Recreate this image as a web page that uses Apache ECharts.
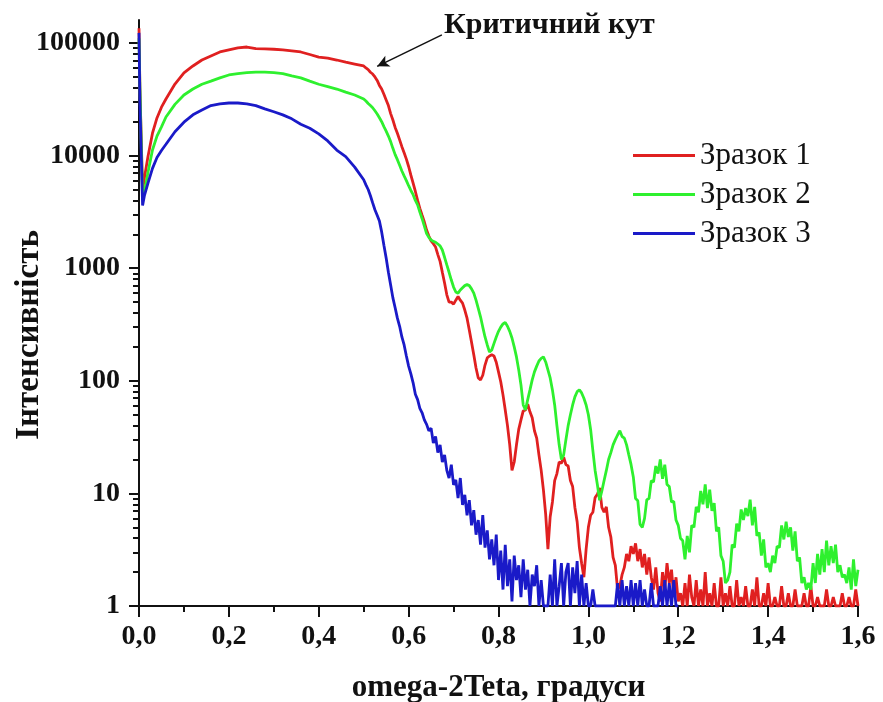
<!DOCTYPE html>
<html>
<head>
<meta charset="utf-8">
<script src="https://cdn.jsdelivr.net/npm/echarts@6/dist/echarts.min.js"></script>
<style>
  html, body { margin: 0; padding: 0; background: #fff; }
  #chart { width: 883px; height: 702px; }
</style>
</head>
<body>
<div id="chart"></div>
<script>
// Scan angles: fine steps near the origin spike, then a regular 0.005° step from 0.5° to 1.6°
const headAngle = [0, 0.002, 0.008, 0.012, 0.02, 0.03, 0.04, 0.05, 0.06, 0.08,
  0.10, 0.12, 0.14, 0.16, 0.18, 0.20, 0.22, 0.24, 0.26, 0.28,
  0.30, 0.32, 0.34, 0.36, 0.38, 0.40, 0.42, 0.44, 0.46, 0.48];
const tailStart = 0.5;
const tailStep = 0.005;
const tailCount = 221;

const seriesNames = ['Зразок 1', 'Зразок 2', 'Зразок 3'];

// Intensity, sample 1
const sample1 = [
  135000, 40000, 4950, 6330, 9800, 15800, 21600, 26900, 31800, 43200,
  54200, 62500, 70600, 76700, 83200, 86700, 90300, 92100, 89000, 88500,
  88000, 86700, 85000, 83200, 79000, 75000, 73500, 70600, 67600, 65000,
  // 0.50 ...
  62500, 60000, 58000, 55000, 53000, 50000, 46500, 42000, 39000, 35000,
  31200, 27800, 23600, 20700, 17800, 15800, 13800, 12000, 10600, 9300,
  8000, 6700, 5700, 4800, 4000, 3400, 2950, 2570, 2180, 1930,
  1750, 1650, 1540, 1320, 1150, 920, 740, 580, 500, 500,
  480, 520, 560, 520, 490, 425, 360, 283, 220, 170,
  130, 106, 102, 112, 138, 160, 166, 170, 166, 146,
  120, 98, 75, 55, 40, 27, 16, 19, 27, 37,
  45, 54, 55, 62, 53, 47, 36, 31, 22, 16,
  10.7, 6.5, 3.2, 6.2, 8.4, 13, 15, 19, 18.5, 21,
  18, 17.5, 13, 11.5, 7.5, 5.6, 3.3, 2.4, 1.8, 3.2,
  5.0, 6.4, 6.8, 9.2, 9.8, 11.2, 7.5, 6.8, 7.6, 5.0,
  4.1, 2.7, 2.3, 1.4, 1.5, 1.9, 2.2, 2.9, 2.5, 3.4,
  2.9, 3.6, 2.5, 3.2, 2.2, 2.9, 1.9, 2.7, 1.8, 1.4,
  2.2, 1.3, 1.1, 2.0, 1.4, 2.4, 1.6, 2.1, 1.2, 1.8,
  1.1, 1.3, 1, 1.6, 1, 1.9, 1.2, 1, 1.7, 1,
  1.4, 1, 2.0, 1, 1.3, 1, 1.6, 1, 1, 1.8,
  1, 1.3, 1, 1.5, 1, 1, 1.7, 1, 1.2, 1,
  1.5, 1, 1, 1.4, 1, 1.8, 1, 1, 1.3, 1,
  1.6, 1, 1, 1.2, 1, 1, 1.5, 1, 1, 1.3,
  1, 1, 1.4, 1, 1, 1, 1.3, 1, 1, 1.5,
  1, 1, 1.2, 1, 1, 1, 1.4, 1, 1, 1.2,
  1, 1, 1, 1.3, 1, 1, 1.2, 1, 1, 1.4,
  1
];

// Intensity, sample 2
const sample2 = [
  110000, 40000, 4030, 4700, 7100, 11200, 14900, 18000, 22000, 28500,
  34500, 39000, 43000, 45800, 49000, 52000, 53500, 54500, 55000, 55000,
  54500, 53500, 51000, 49000, 45800, 43000, 41000, 39000, 36600, 34500,
  // 0.50 ...
  31800, 30500, 29000, 27800, 26600, 25000, 23400, 21700, 20000, 18100,
  16500, 14900, 13300, 11600, 10200, 9200, 8200, 7300, 6600, 6000,
  5400, 4900, 4500, 4000, 3650, 3150, 2750, 2360, 2030, 1880,
  1780, 1730, 1700, 1640, 1580, 1450, 1250, 1070, 920, 785,
  680, 615, 600, 640, 670, 700, 715, 700, 655, 600,
  520, 440, 370, 300, 245, 208, 180, 188, 215, 245,
  275, 300, 320, 330, 305, 275, 240, 200, 163, 125,
  92, 61, 55, 68, 83, 102, 120, 135, 150, 158,
  163, 147, 125, 106, 83, 61, 40, 27, 20, 22,
  30, 40, 50, 61, 72, 80, 83, 78, 70, 61,
  50, 37, 24, 16, 12, 8.7, 10.5, 13, 16, 20,
  23, 27, 30, 33, 36, 32, 31, 27, 22, 18,
  14, 9.0, 8.6, 5.3, 5.0, 6.0, 8.8, 9.0, 13, 12.6,
  17.5, 15, 20, 13.5, 18, 12, 11.5, 8.4, 8.5, 5.8,
  5.2, 4.0, 3.8, 2.6, 4.2, 3.0, 5.2, 5.0, 7.6, 6.8,
  10.5, 8.0, 12, 7.4, 10.8, 7.0, 8.2, 4.6, 5.0, 2.8,
  2.5, 1.6, 1.7, 2.0, 3.5, 3.3, 5.4, 4.6, 7.2, 5.8,
  7.4, 6.3, 8.8, 5.2, 7.6, 4.2, 4.5, 2.8, 3.9, 2.2,
  2.4, 2.0, 2.8, 2.4, 3.4, 3.3, 5.2, 3.9, 5.6, 4.1,
  5.0, 3.1, 4.6, 2.5, 2.7, 1.6, 1.8, 1.4, 1.6, 1.4,
  2.4, 1.6, 2.9, 1.9, 3.2, 2.0, 3.8, 2.3, 3.4, 2.4,
  3.5, 2.0, 2.3, 1.8, 1.9, 1.6, 2.2, 1.4, 2.6, 1.5,
  2.1
];

// Intensity, sample 3 (recorded up to 1.2°)
const sample3 = [
  123000, 30000, 3600, 4400, 5700, 7700, 9600, 11100, 12600, 16300,
  19800, 23000, 25400, 27800, 28800, 29300, 29300, 28800, 27800, 26000,
  24500, 23000, 21200, 19000, 17500, 15600, 13500, 11200, 9800, 7900,
  // 0.50 ...
  6100, 5500, 5000, 4400, 3800, 3300, 2950, 2620, 2100, 1600,
  1230, 920, 710, 545, 445, 360, 305, 245, 208, 166,
  135, 115, 96, 76, 68, 57, 52, 45, 41, 36,
  38, 28, 32, 23, 27, 19, 22, 16, 13.7, 18,
  11.9, 13.2, 9.1, 13.7, 7.9, 9.7, 6.4, 8.7, 5.2, 7.1,
  4.3, 5.8, 3.5, 6.4, 3.3, 4.7, 2.6, 3.9, 2.3, 4.3,
  1.7, 3.1, 1.4, 3.5, 1.5, 2.6, 1.1, 2.8, 1.7, 2.3,
  1.2, 2.6, 1.4, 2.1, 1, 1.9, 1.5, 2.3, 1, 1.7,
  1, 1, 1, 1.9, 1, 2.6, 1, 1.5, 2.4, 1,
  2.0, 2.4, 1, 2.2, 1.3, 2.5, 1, 1.9, 1, 1.6,
  1, 1, 1.4, 1, 1, 1, 1, 1, 1, 1,
  1, 1, 1, 1.6, 1, 1.7, 1, 1.5, 1, 1.7,
  1, 1.6, 1, 1.7, 1, 1.4, 1, 1, 1.6, 1,
  1, 1, 1.5, 1, 1.7, 1, 1.6, 1, 1.7, 1,
  1
];

const yMajorTicks = [1, 10, 100, 1000, 10000, 100000];
const xTickLabels = ['0,0', '0,2', '0,4', '0,6', '0,8', '1,0', '1,2', '1,4', '1,6'];
const annotationText = 'Критичний кут';
// Arrow from the caption to the critical-angle shoulder of sample 1 (angle, intensity)
const arrowFrom = [0.674, 118000];
const arrowTo = [0.53, 62000];

const angle = headAngle.concat(
  Array.from({ length: tailCount }, (_, i) => +(tailStart + i * tailStep).toFixed(3))
);
const toPairs = vals => vals.map((v, i) => [angle[i], v]);

const yMinorTicks = [];
yMajorTicks.forEach(d => {
  for (let m = 2; m <= 9; m++) if (d * m <= 160000) yMinorTicks.push(d * m);
});

const serif = '"Liberation Serif", "Times New Roman", serif';
const ink = '#111';
const colors = ['#e02020', '#2ef02e', '#1a1ac8'];

const chart = echarts.init(document.getElementById('chart'), null, { renderer: 'canvas' });

const lineSeries = [sample1, sample2, sample3].map((vals, k) => ({
  name: seriesNames[k],
  type: 'line',
  data: toPairs(vals),
  showSymbol: false,
  symbol: 'none',
  sampling: null,
  clip: true,
  z: 2 + k,
  lineStyle: { color: colors[k], width: 2.8 },
  itemStyle: { color: colors[k] }
}));

lineSeries[0].markLine = {
  silent: true,
  symbol: ['none', 'arrow'],
  symbolSize: [9, 12],
  label: { show: false },
  lineStyle: { color: ink, width: 1.5, type: 'solid' },
  data: [[{ coord: arrowFrom }, { coord: arrowTo }]]
};

chart.setOption({
  animation: false,
  backgroundColor: '#fff',
  grid: { left: 139, right: 25, top: 20, bottom: 96, containLabel: false, outerBoundsMode: 'none' },
  legend: {
    data: seriesNames.map((n, k) => ({ name: n, itemStyle: { color: colors[k] } })),
    orient: 'vertical',
    left: 628,
    top: 135,
    icon: 'rect',
    itemWidth: 62,
    itemHeight: 3,
    itemGap: 8,
    textStyle: { fontFamily: serif, fontSize: 31, color: ink }
  },
  graphic: [{
    type: 'text',
    left: 444,
    top: 10,
    style: { text: annotationText, font: 'bold 30px ' + serif, fill: ink }
  }],
  xAxis: {
    type: 'value',
    min: 0,
    max: 1.6,
    interval: 0.2,
    name: 'omega-2Teta, градуси',
    nameLocation: 'middle',
    nameGap: 66,
    nameMoveOverlap: false,
    nameTextStyle: { fontFamily: serif, fontWeight: 'bold', fontSize: 31, color: ink },
    axisLine: { show: true, lineStyle: { color: ink, width: 2 } },
    axisTick: { show: true, length: 11, lineStyle: { color: ink, width: 2 } },
    minorTick: { show: true, splitNumber: 2, length: 6, lineStyle: { color: ink, width: 2 } },
    axisLabel: {
      margin: 17,
      formatter: v => xTickLabels[Math.round(v / 0.2)],
      fontFamily: serif, fontWeight: 'bold', fontSize: 28, color: ink
    },
    splitLine: { show: false }
  },
  yAxis: [{
    type: 'log',
    logBase: 10,
    min: 1,
    max: 160000,
    name: 'Інтенсивність',
    nameLocation: 'middle',
    nameGap: 93,
    nameMoveOverlap: false,
    nameTextStyle: { fontFamily: serif, fontWeight: 'bold', fontSize: 33, color: ink, padding: [0, 44, 0, 0] },
    axisLine: { show: true, lineStyle: { color: ink, width: 2 } },
    axisTick: { show: true, length: 10, customValues: yMajorTicks, lineStyle: { color: ink, width: 2 } },
    axisLabel: {
      customValues: yMajorTicks,
      margin: 19,
      formatter: v => String(Math.round(v)),
      fontFamily: serif, fontWeight: 'bold', fontSize: 28, color: ink
    },
    splitLine: { show: false }
  }, {
    type: 'log',
    logBase: 10,
    min: 1,
    max: 160000,
    position: 'left',
    axisLine: { show: false },
    axisTick: { show: true, length: 6, customValues: yMinorTicks, lineStyle: { color: ink, width: 2 } },
    axisLabel: { show: false },
    splitLine: { show: false }
  }],
  series: lineSeries
});
</script>
</body>
</html>
